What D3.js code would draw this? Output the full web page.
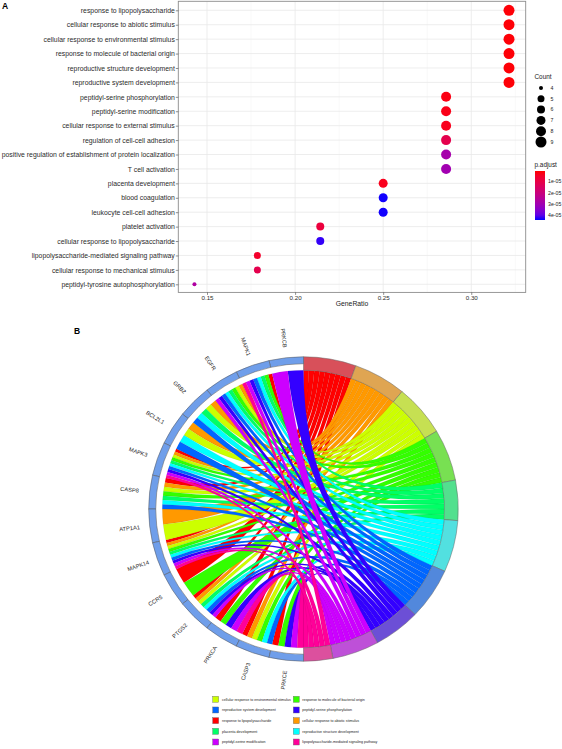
<!DOCTYPE html>
<html><head><meta charset="utf-8">
<script src="https://cdn.jsdelivr.net/npm/d3@7"></script>
<style>html,body{margin:0;padding:0;background:#fff}svg{display:block}text{font-family:"Liberation Sans",Arial,sans-serif}</style>
</head><body><svg id="c" width="562" height="749"></svg>
<script>
// Panel A data
const dotTerms = ["response to lipopolysaccharide","cellular response to abiotic stimulus","cellular response to environmental stimulus","response to molecule of bacterial origin","reproductive structure development","reproductive system development","peptidyl-serine phosphorylation","peptidyl-serine modification","cellular response to external stimulus","regulation of cell-cell adhesion","positive regulation of establishment of protein localization","T cell activation","placenta development","blood coagulation","leukocyte cell-cell adhesion","platelet activation","cellular response to lipopolysaccharide","lipopolysaccharide-mediated signaling pathway","cellular response to mechanical stimulus","peptidyl-tyrosine autophosphorylation"];
const dotCount = [9,9,9,9,9,9,8,8,8,8,8,8,7,7,7,6,6,5,5,4];
const geneTotal = 28;
const dotP = [0.1,0.1,0.1,0.1,0.1,0.1,0.2,0.25,0.3,1.1,2.9,3.0,0.3,4.4,4.4,0.8,4.3,0.5,1.1,2.7]; // ×1e-5
const xTicks = [0.15,0.20,0.25,0.30];
const xMinor = [0.175,0.225,0.275,0.325];
const sizeLegend = [4,5,6,7,8,9];
const pTicks = [1,2,3,4];
const pTickLabels = ["1e-05","2e-05","3e-05","4e-05"];

// Panel B data
const chordTerms = ["response to lipopolysaccharide","cellular response to abiotic stimulus","cellular response to environmental stimulus","response to molecule of bacterial origin","placenta development","reproductive structure development","reproductive system development","peptidyl-serine phosphorylation","peptidyl-serine modification","lipopolysaccharide-mediated signaling pathway"];
const termCodes = ["R","O","Y","G","S","C","B","I","P","K"];
const termColors = ["#FF0000","#FF9900","#CCFF00","#33FF00","#00FF66","#00FFFF","#0066FF","#3300FF","#CC00FF","#FF0099"];
const termRing = ["#D8505A","#DFA552","#C6E052","#78E052","#52E08E","#52E0E0","#5288DC","#6C4FD6","#BE50D8","#DC509E"];
const genes = ["PRKCB","MAPK1","EGFR","GRB2","BCL2L1","MAPK3","CASP8","ATP1A1","MAPK14","CCR5","PTGS2","PRKCA","CASP3","PRKCE"];
const geneTerms = ["IP","RGSCBIPK","OYGSCBIP","OYSCB","OYCB","ROYGSCBIPK","ROYGSCB","OY","ROYGSCBIPK","RG","ROYSCBIP","RGIPK","ROYGCB","RGIPK"];
const legendCol1 = ["cellular response to environmental stimulus","reproductive system development","response to lipopolysaccharide","placenta development","peptidyl-serine modification"];
const legendCol2 = ["response to molecule of bacterial origin","peptidyl-serine phosphorylation","cellular response to abiotic stimulus","reproductive structure development","lipopolysaccharide-mediated signaling pathway"];

const svg = d3.select("#c");
const L=178.3,R=525.7,T=1.3,B=292.4;
const FONT='"Liberation Sans",Arial,sans-serif';
const x = d3.scaleLinear().domain([0.1337,0.3309]).range([L,R]);
const y = d3.scalePoint().domain(dotTerms).range([10.3,284.3]);
const rad = d3.scaleLinear().domain([4,5,9]).range([2,3.5,5.5]);
const pColor = d3.scaleLinear().domain([0.05,4.42]).range(["#FF0000","#0000FF"]).interpolate(d3.interpolateLab);
const a = svg.append("g");
a.selectAll(".mn").data(xMinor).join("line").attr("x1",d=>x(d)).attr("x2",d=>x(d)).attr("y1",T).attr("y2",B).attr("stroke","#f0f0f0").attr("stroke-width",.5);
a.selectAll(".mj").data(xTicks).join("line").attr("x1",d=>x(d)).attr("x2",d=>x(d)).attr("y1",T).attr("y2",B).attr("stroke","#e8e8e8").attr("stroke-width",.8);
a.selectAll(".h").data(dotTerms).join("line").attr("x1",L).attr("x2",R).attr("y1",d=>y(d)).attr("y2",d=>y(d)).attr("stroke","#e8e8e8").attr("stroke-width",.8);
a.selectAll("circle").data(dotTerms).join("circle").attr("cx",(d,i)=>x(dotCount[i]/geneTotal)).attr("cy",d=>y(d)).attr("r",(d,i)=>rad(dotCount[i])).attr("fill",(d,i)=>pColor(dotP[i]));
a.append("rect").attr("x",L).attr("y",T).attr("width",R-L).attr("height",B-T).attr("fill","none").attr("stroke","#8c8c8c").attr("stroke-width",.9);
const yAx = a.append("g").attr("transform",`translate(${L},0)`).call(d3.axisLeft(y).tickSize(2.5).tickPadding(1));
yAx.select(".domain").remove();
yAx.selectAll("text").attr("font-size",6.85).attr("fill","#2b2b2b").style("font-family",FONT);
yAx.selectAll("line").attr("stroke","#444").attr("stroke-width",.6);
const xAx = a.append("g").attr("transform",`translate(0,${B})`).call(d3.axisBottom(x).tickValues(xTicks).tickFormat(d3.format(".2f")).tickSize(2.5).tickPadding(1));
xAx.select(".domain").remove();
xAx.selectAll("text").attr("font-size",6.2).attr("fill","#2b2b2b").style("font-family",FONT);
xAx.selectAll("line").attr("stroke","#444").attr("stroke-width",.6);
a.append("text").attr("x",352).attr("y",306).attr("text-anchor","middle").attr("font-size",6.8).attr("fill","#222").text("GeneRatio");
svg.append("text").attr("x",2).attr("y",9).attr("font-size",8.5).attr("font-weight","bold").text("A");
svg.append("text").attr("x",74).attr("y",334).attr("font-size",8.5).attr("font-weight","bold").text("B");

// legends
const sizeY = d3.scalePoint().domain(sizeLegend).range([88,142]);
svg.append("text").attr("x",534.5).attr("y",79).attr("font-size",6.4).attr("fill","#222").text("Count");
svg.selectAll(".sk").data(sizeLegend).join("circle").attr("cx",541).attr("cy",d=>sizeY(d)).attr("r",d=>rad(d)).attr("fill","#000");
svg.selectAll(".sl").data(sizeLegend).join("text").attr("x",550.5).attr("y",d=>sizeY(d)+1.8).attr("font-size",5.2).attr("fill","#222").text(d=>d);
svg.append("text").attr("x",534.5).attr("y",167).attr("font-size",6.4).attr("fill","#222").text("p.adjust");
const grad = svg.append("defs").append("linearGradient").attr("id","pg").attr("x1",0).attr("x2",0).attr("y1",0).attr("y2",1);
d3.range(0,1.01,0.1).forEach(f=>grad.append("stop").attr("offset",f).attr("stop-color",pColor(0.05+f*4.37)));
const pY = d3.scaleLinear().domain([0.05,4.42]).range([171,220]);
svg.append("rect").attr("x",535).attr("y",pY(0.05)).attr("width",10).attr("height",pY(4.42)-pY(0.05)).attr("fill","url(#pg)");
svg.selectAll(".pl").data(pTicks).join("text").attr("x",548).attr("y",d=>pY(d)+1.7).attr("font-size",5.2).attr("fill","#222").text((d,i)=>pTickLabels[i]);

// Panel B
const b = svg.append("g").attr("transform","translate(303.5,509) scale(1.012,0.995)");
const deg = d3.scaleLinear().domain([0,180]).range([0,Math.PI]);
const total = d3.sum(geneTerms,s=>s.length);
const perUnit = 180/total;
const geneStep = 180/genes.length;
let cum=0;
const termArcs = termCodes.map((c,j)=>{const n=d3.sum(geneTerms,s=>s.includes(c)?1:0);const r={c,j,n,s:cum*perUnit,e:(cum+n)*perUnit};cum+=n;return r;});
const termSeen = termCodes.map(()=>0);
const links=[];
genes.forEach((g,i)=>{
  const list=geneTerms[i].split("");
  const w=geneStep/list.length;
  list.forEach((c,k)=>{
    const j=termCodes.indexOf(c), t=termArcs[j], tw=(t.e-t.s)/t.n, q=termSeen[j]++;
    links.push({i,j,gs:-i*geneStep-(k+1)*w,ge:-i*geneStep-k*w,ts:t.s+q*tw,te:t.s+(q+1)*tw});
  });
});
const rIn=139.5;
const ribbon=d3.ribbon().radius(rIn);
links.sort((p,q)=>d3.ascending(p.j,q.j)||d3.descending(p.i,q.i));
b.selectAll("path.l").data(links).join("path").attr("class","l")
 .attr("d",d=>ribbon({source:{startAngle:deg(d.gs),endAngle:deg(d.ge)},target:{startAngle:deg(d.ts),endAngle:deg(d.te)}}))
 .attr("fill",d=>termColors[d.j]).attr("stroke","#000").attr("stroke-opacity",.18).attr("stroke-width",.3);
const tArc=d3.arc().innerRadius(rIn).outerRadius(153);
b.selectAll("path.t").data(termArcs).join("path").attr("class","t").attr("d",d=>tArc({startAngle:deg(d.s),endAngle:deg(d.e)}))
 .attr("fill",(d,i)=>termRing[i]).attr("stroke","#666").attr("stroke-width",.5);
const gArc=d3.arc().innerRadius(146).outerRadius(153);
b.selectAll("path.g").data(genes).join("path").attr("class","g").attr("d",(d,i)=>gArc({startAngle:deg(-(i+1)*geneStep),endAngle:deg(-i*geneStep)}))
 .attr("fill","#6F9EEA").attr("stroke","#555").attr("stroke-width",.5);
b.selectAll("text.g").data(genes).join("text").attr("class","g").attr("text-anchor","middle").attr("dy","0.35em").attr("font-size",5.6).attr("fill","#222")
 .attr("transform",(d,i)=>{const an=(i+.5)*geneStep;return `rotate(${-an}) translate(0,-173) rotate(90)`;}).text(d=>d);

// chord legend
const legY=d3.scalePoint().domain(d3.range(5)).range([699.3,742]);
[[legendCol1,212.7,222],[legendCol2,293.3,302.3]].forEach(([col,sx,tx])=>{
  svg.selectAll(null).data(col).join("rect").attr("x",sx).attr("y",(d,i)=>legY(i)-3).attr("width",6).attr("height",6)
    .attr("fill",d=>termColors[chordTerms.indexOf(d)]).attr("stroke","#666").attr("stroke-width",.4);
  svg.selectAll(null).data(col).join("text").attr("x",tx).attr("y",(d,i)=>legY(i)+1.2).attr("font-size",3.6).attr("fill","#222").text(d=>d);
});
</script></body></html>
